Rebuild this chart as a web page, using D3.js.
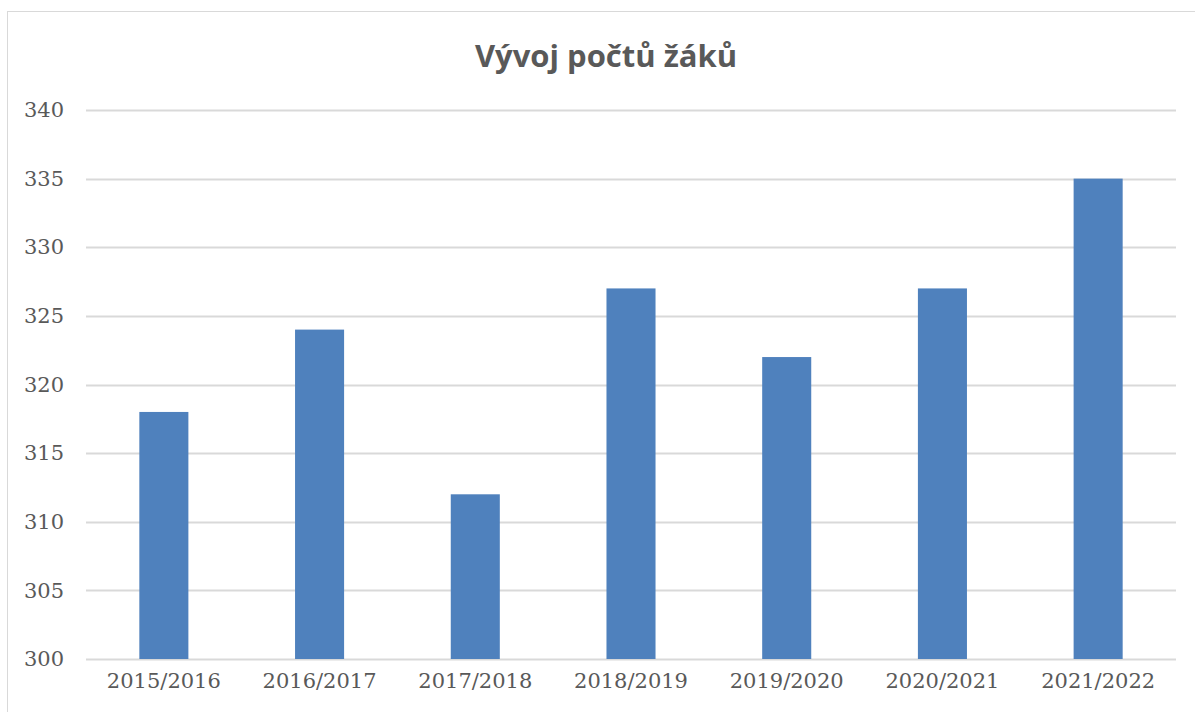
<!DOCTYPE html>
<html>
<head>
<meta charset="utf-8">
<script src="https://cdn.jsdelivr.net/npm/d3@7"></script>
<style>
  body { margin: 0; background: #fff; }
  svg { display: block; }
</style>
</head>
<body>
<svg width="1195" height="712"></svg>
<script>
// Data
var years = ["2015/2016", "2016/2017", "2017/2018", "2018/2019", "2019/2020", "2020/2021", "2021/2022"];
var pupils = [318, 324, 312, 327, 322, 327, 335];
var yTicks = [300, 305, 310, 315, 320, 325, 330, 335, 340];

var svg = d3.select("svg"),
  width = +svg.attr("width"),
  height = +svg.attr("height");

var margin = { top: 110, right: 19, bottom: 53, left: 86 };

// chart frame
svg.append("rect")
  .attr("x", 7.5)
  .attr("y", 11.5)
  .attr("width", 1200)
  .attr("height", 720)
  .attr("fill", "#fff")
  .attr("stroke", "#d9d9d9")
  .attr("stroke-width", 1);

// title
svg.append("text")
  .attr("x", 606)
  .attr("y", 67)
  .attr("text-anchor", "middle")
  .style("font-family", "'Open Sans', sans-serif")
  .style("font-weight", "bold")
  .style("font-size", "31px")
  .attr("fill", "#595959")
  .text("Vývoj počtů žáků");

var x = d3.scaleBand()
  .domain(years)
  .range([margin.left, width - margin.right])
  .paddingInner(0.685)
  .paddingOuter(0.3425);

var y = d3.scaleLinear()
  .domain([300, 340])
  .range([height - margin.bottom, margin.top]);

// gridlines
svg.append("g")
  .selectAll("line")
  .data(yTicks)
  .enter()
  .append("line")
  .attr("x1", margin.left)
  .attr("x2", width - margin.right)
  .attr("y1", (d) => Math.round(y(d)) + 0.5)
  .attr("y2", (d) => Math.round(y(d)) + 0.5)
  .attr("stroke", "#d9d9d9")
  .attr("stroke-width", 2);

// bars
svg.append("g")
  .selectAll("rect")
  .data(pupils)
  .enter()
  .append("rect")
  .attr("x", (d, i) => x(years[i]))
  .attr("y", (d) => y(d))
  .attr("width", x.bandwidth())
  .attr("height", (d) => y(300) - y(d))
  .attr("fill", "#4f81bd");

// y axis labels
var yAxis = d3.axisLeft(y).tickValues(yTicks).tickSize(0).tickPadding(22);
var gy = svg.append("g")
  .attr("transform", "translate(" + margin.left + ",0)")
  .call(yAxis);
gy.select(".domain").remove();

// x axis labels
var xAxis = d3.axisBottom(x).tickSize(0).tickPadding(14);
var gx = svg.append("g")
  .attr("transform", "translate(0," + y(300) + ")")
  .call(xAxis);
gx.select(".domain").remove();

svg.selectAll(".tick text")
  .style("font-family", "'DejaVu Serif', serif")
  .style("font-size", "21px")
  .attr("fill", "#595959");
</script>
</body>
</html>
